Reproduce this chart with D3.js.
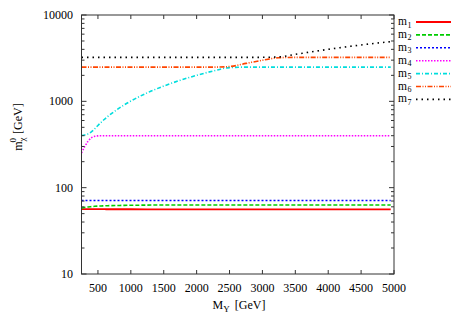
<!DOCTYPE html>
<html><head><meta charset="utf-8">
<script src="https://cdn.jsdelivr.net/npm/d3@7"></script>
<style>body{margin:0;background:#fff}text{font-family:"Liberation Serif","DejaVu Serif",serif}</style>
</head><body><svg id="c" width="467" height="327"></svg>
<script>
const mY = [250,300,350,400,450,500,550,600,650,700,800,900,1000,1250,1500,1750,2000,2250,2500,2750,3000,3250,3500,3750,4000,4250,4500,4750,4950];
const m1 = [56.5,56.5,56.4,56.4,56.3,56.3,56.3,56.3,56.2,56.2,56.2,56.2,56.2,56.1,56.1,56,56,56,56,56,56,56,56,56,56,56,56,56,56];
const m2 = [58,59,59.8,60.3,60.8,61.2,61.4,61.6,61.8,62,62.2,62.4,62.5,62.8,63,63,63,63,63,63,63,63,63,63,63,63,63,63,63];
const m3 = [71,71,71,71,71,71,71,71,71,71,71,71,71,71,71,71,71,71,71,71,71,71,71,71,71,71,71,71,71];
const m4 = [252,300,345,378,393,398,400,400,400,400,400,400,400,400,400,400,400,400,400,400,400,400,400,400,400,400,400,400,400];
const m5 = [402,408,420,442,478,525,572,620,668,716,812,910,1008,1255,1503,1752,2000,2245,2460,2490,2490,2490,2490,2490,2490,2490,2490,2490,2490];
const m6 = [2490,2490,2490,2490,2490,2490,2490,2490,2490,2490,2490,2490,2490,2490,2490,2490,2490,2490,2530,2750,2990,3200,3230,3230,3230,3230,3230,3230,3230];
const m7 = [3230,3230,3230,3230,3230,3230,3230,3230,3230,3230,3230,3230,3230,3230,3230,3230,3230,3230,3230,3230,3235,3270,3500,3750,4000,4250,4500,4730,4920];
const xTicks = [500,1000,1500,2000,2500,3000,3500,4000,4500,5000];
const yTicks = [10,100,1000,10000];
const seriesNames = ["1","2","3","4","5","6","7"];
const seriesData = [m1,m2,m3,m4,m5,m6,m7];
const colors = ["#ff0000","#00cc00","#0000ff","#ff00ff","#00dddd","#ff4500","#000000"];
const dashes = [null,"4,2","2,2","1.5,1.5","4,2,1,2","5,1.5,1,1.5,1,1.5","1.5,4"];

const svg = d3.select("#c");
const L=81.5, R=394, T=15, B=274;
const x = d3.scaleLinear().domain([250,5000]).range([L,R]);
const y = d3.scaleLog().domain([10,10000]).range([B,T]);

svg.append("clipPath").attr("id","cp").append("rect").attr("x",L).attr("y",T).attr("width",R-L).attr("height",B-T);
const line = d3.line().x((d,i)=>x(mY[i])).y(d=>y(d)).curve(d3.curveMonotoneX);
const g = svg.append("g").attr("clip-path","url(#cp)");
seriesData.forEach((s,k)=>{
  g.append("path").attr("d",line(s)).attr("fill","none").attr("stroke",colors[k])
   .attr("stroke-width",k===0?1.8:1.6).attr("stroke-dasharray",dashes[k]);
});

const ax = svg.append("g").attr("stroke","#333").attr("stroke-width",1);
ax.append("rect").attr("x",L).attr("y",T).attr("width",R-L).attr("height",B-T).attr("fill","none");
xTicks.forEach(t=>{
  ax.append("line").attr("x1",x(t)).attr("x2",x(t)).attr("y1",B).attr("y2",B-4);
  ax.append("line").attr("x1",x(t)).attr("x2",x(t)).attr("y1",T).attr("y2",T+4);
});
const minors=[];
for(let d=10; d<10000; d*=10) for(let m=2;m<=9;m++) minors.push(d*m);
yTicks.forEach(t=>{
  ax.append("line").attr("x1",L).attr("x2",L+5).attr("y1",y(t)).attr("y2",y(t));
  ax.append("line").attr("x1",R).attr("x2",R-5).attr("y1",y(t)).attr("y2",y(t));
});
minors.forEach(t=>{
  ax.append("line").attr("x1",L).attr("x2",L+3).attr("y1",y(t)).attr("y2",y(t));
  ax.append("line").attr("x1",R).attr("x2",R-3).attr("y1",y(t)).attr("y2",y(t));
});
svg.selectAll(".xl").data(xTicks).enter().append("text").attr("x",d=>x(d)).attr("y",292)
  .attr("text-anchor","middle").attr("font-size",12).attr("fill","#000").text(d=>d);
svg.selectAll(".yl").data(yTicks).enter().append("text").attr("x",73).attr("y",d=>y(d)+4)
  .attr("text-anchor","end").attr("font-size",12).attr("fill","#000").text(d=>d);

const xl = svg.append("text").attr("x",239).attr("y",309).attr("text-anchor","middle").attr("font-size",12);
xl.append("tspan").text("M");
xl.append("tspan").attr("font-size",9).attr("dy",3).text("Y");
xl.append("tspan").attr("dy",-3).attr("dx",5).text("[GeV]");

const yl = svg.append("text").attr("transform","translate(22,127) rotate(-90)").attr("text-anchor","middle").attr("font-size",12);
yl.append("tspan").text("m");
yl.append("tspan").attr("font-size",9).attr("dy",3).text("χ");
yl.append("tspan").attr("font-size",9).attr("dy",-9).attr("dx",-5).text("0");
yl.append("tspan").attr("dy",6).attr("dx",4).text("[GeV]");

seriesNames.forEach((n,k)=>{
  const yy = 22 + k*12.9;
  svg.append("text").attr("x",398).attr("y",yy+3).attr("font-size",11.5).text("m");
  svg.append("text").attr("x",407.5).attr("y",yy+5.5).attr("font-size",8).text(n);
  svg.append("line").attr("x1",416).attr("x2",451).attr("y1",yy).attr("y2",yy)
    .attr("stroke",colors[k]).attr("stroke-width",k===0?1.8:1.6).attr("stroke-dasharray",dashes[k]);
});
</script></body></html>
